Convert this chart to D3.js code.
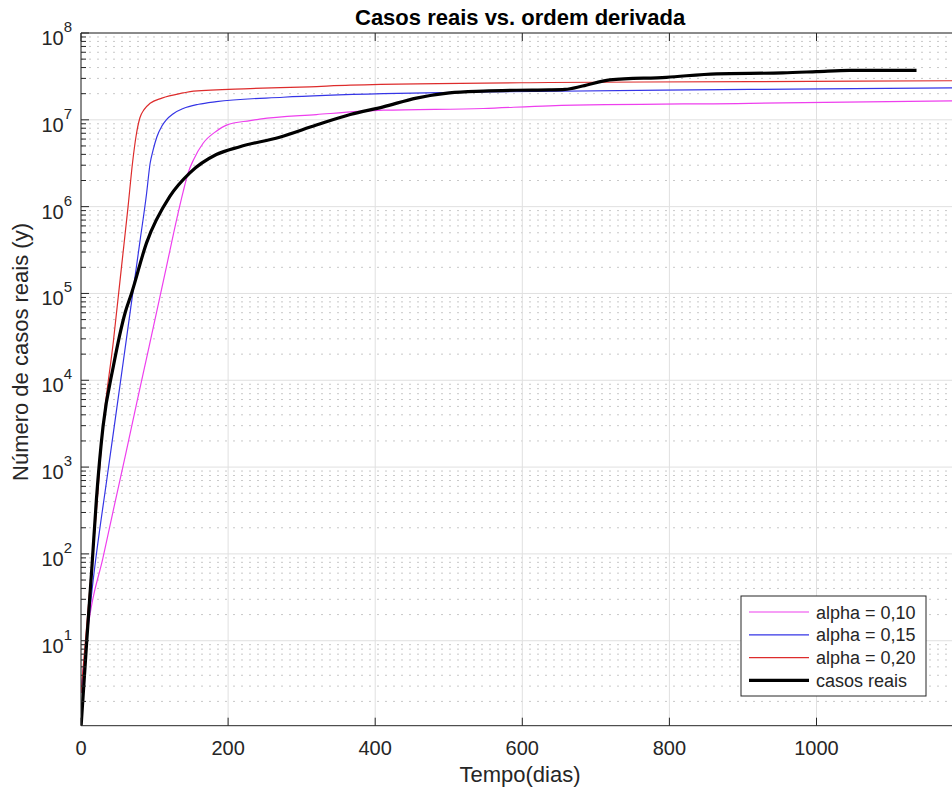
<!DOCTYPE html>
<html>
<head>
<meta charset="utf-8">
<script src="https://cdn.jsdelivr.net/npm/d3@7"></script>
<style>
  body { margin: 0; background: #fff; }
  svg text { font-family: "Liberation Sans", Arial, Helvetica, sans-serif; fill: #262626; }
</style>
</head>
<body>
<div id="chart"></div>
<script>
// days and values
const tAlpha10 = [0, 10, 30, 45, 60, 76, 89, 103, 116, 130, 139, 146, 153, 166, 184, 198, 230, 243, 320, 411, 547, 637, 909, 1194];
const yAlpha10 = [2.5, 15, 91, 350, 1320, 5600, 17800, 62000, 2.0e5, 7.1e5, 1.5e6, 2.5e6, 3.47e6, 5.37e6, 7.4e6, 8.7e6, 9.8e6, 1.02e7, 1.15e7, 1.29e7, 1.35e7, 1.45e7, 1.55e7, 1.66e7];

const tAlpha15 = [0, 19, 35, 51, 62, 71, 80, 89, 94, 98, 103, 110, 116, 125, 139, 160, 184, 275, 411, 547, 909, 1194];
const yAlpha15 = [2.5, 74, 710, 6600, 31000, 1.1e5, 3.9e5, 1.38e6, 3.16e6, 4.47e6, 6.3e6, 8.5e6, 1.0e7, 1.17e7, 1.35e7, 1.51e7, 1.62e7, 1.82e7, 2.0e7, 2.09e7, 2.24e7, 2.34e7];

const tAlpha20 = [0, 10, 20, 30, 44, 55, 64, 70, 75, 80, 86, 94, 110, 139, 153, 230, 311, 366, 637, 909, 1194];
const yAlpha20 = [2.5, 25, 250, 2950, 28000, 2.0e5, 1.0e6, 3.16e6, 6.6e6, 1.05e7, 1.32e7, 1.55e7, 1.78e7, 2.04e7, 2.14e7, 2.29e7, 2.4e7, 2.51e7, 2.69e7, 2.75e7, 2.82e7];

const tReal = [0, 8, 15, 21, 30, 44, 60, 69, 89, 121, 148, 184, 216, 270, 320, 366, 411, 456, 501, 547, 592, 637, 658, 682, 719, 796, 864, 954, 1000, 1045, 1136];
const yReal = [1, 10.5, 74, 430, 2950, 14500, 60000, 102000, 380000, 1.32e6, 2.45e6, 3.98e6, 4.9e6, 6.3e6, 8.7e6, 1.15e7, 1.41e7, 1.78e7, 2.04e7, 2.14e7, 2.19e7, 2.21e7, 2.24e7, 2.45e7, 2.88e7, 3.09e7, 3.39e7, 3.47e7, 3.59e7, 3.72e7, 3.72e7];

const xTicks = [0, 200, 400, 600, 800, 1000];
const yDecades = [1, 2, 3, 4, 5, 6, 7, 8];

const seriesNames = ["alpha = 0,10", "alpha = 0,15", "alpha = 0,20", "casos reais"];
const seriesColors = ["#ee3fee", "#3535e6", "#dd2c2c", "#000000"];
const seriesWidths = [1.2, 1.2, 1.2, 3.2];

const width = 952, height = 789;
const plotLeft = 81, plotTop = 33, plotBottom = 725.7;
const xMax = 1194;
const plotRight = plotLeft + xMax * 0.7355;

const svg = d3.select("#chart").append("svg")
    .attr("width", width)
    .attr("height", height);

const x = d3.scaleLinear().domain([0, xMax]).range([plotLeft, plotRight]);
const y = d3.scaleLog().domain([1.05, 1e8]).range([plotBottom, plotTop]);

// minor values in each decade
const minorVals = [];
for (let d = 0; d < 8; d++) {
    for (let k = 2; k <= 9; k++) {
        const v = k * Math.pow(10, d);
        if (v > 1.05 && v < 1e8) minorVals.push(v);
    }
}

const grid = svg.append("g");
grid.selectAll("line.minor")
    .data(minorVals)
    .enter().append("line")
    .attr("class", "minor")
    .attr("x1", plotLeft).attr("x2", plotRight)
    .attr("y1", d => y(d)).attr("y2", d => y(d))
    .attr("stroke", "#c8c8c8")
    .attr("stroke-width", 1)
    .attr("stroke-dasharray", "2,6");

grid.selectAll("line.vmajor")
    .data(xTicks)
    .enter().append("line")
    .attr("class", "vmajor")
    .attr("x1", d => x(d)).attr("x2", d => x(d))
    .attr("y1", plotTop).attr("y2", plotBottom)
    .attr("stroke", "#e0e0e0")
    .attr("stroke-width", 1);

grid.selectAll("line.hmajor")
    .data(yDecades.map(e => Math.pow(10, e)))
    .enter().append("line")
    .attr("class", "hmajor")
    .attr("x1", plotLeft).attr("x2", plotRight)
    .attr("y1", d => y(d)).attr("y2", d => y(d))
    .attr("stroke", "#e0e0e0")
    .attr("stroke-width", 1);

// curves
svg.append("clipPath").attr("id", "clip")
    .append("rect").attr("x", plotLeft).attr("y", plotTop)
    .attr("width", plotRight - plotLeft).attr("height", plotBottom - plotTop);

const plot = svg.append("g").attr("clip-path", "url(#clip)");

const series = [
    { t: tAlpha10, v: yAlpha10 },
    { t: tAlpha15, v: yAlpha15 },
    { t: tAlpha20, v: yAlpha20 },
    { t: tReal, v: yReal }
];

series.forEach((s, i) => {
    const pts = s.t.map((t, j) => [t, s.v[j]]);
    const line = d3.line()
        .x(d => x(d[0]))
        .y(d => y(d[1]))
        .curve(d3.curveMonotoneX);
    plot.append("path")
        .attr("d", line(pts))
        .attr("fill", "none")
        .attr("stroke", seriesColors[i])
        .attr("stroke-width", seriesWidths[i])
        .attr("stroke-linejoin", "round");
});

// axes box lines
const axisColor = "#262626";
svg.append("line").attr("x1", plotLeft).attr("x2", plotRight).attr("y1", plotTop).attr("y2", plotTop)
    .attr("stroke", axisColor).attr("stroke-width", 1);
svg.append("line").attr("x1", plotLeft).attr("x2", plotRight).attr("y1", plotBottom).attr("y2", plotBottom)
    .attr("stroke", axisColor).attr("stroke-width", 1);
svg.append("line").attr("x1", plotLeft).attr("x2", plotLeft).attr("y1", plotTop).attr("y2", plotBottom)
    .attr("stroke", axisColor).attr("stroke-width", 1);

// x ticks (inward, bottom and top)
const xt = svg.append("g");
xTicks.forEach(t => {
    xt.append("line").attr("x1", x(t)).attr("x2", x(t)).attr("y1", plotBottom).attr("y2", plotBottom - 8)
        .attr("stroke", axisColor);
    xt.append("line").attr("x1", x(t)).attr("x2", x(t)).attr("y1", plotTop).attr("y2", plotTop + 8)
        .attr("stroke", axisColor);
    xt.append("text")
        .attr("x", x(t)).attr("y", plotBottom + 29)
        .attr("text-anchor", "middle")
        .attr("font-size", 20)
        .text(t);
});

// y ticks
const yt = svg.append("g");
minorVals.forEach(v => {
    yt.append("line").attr("x1", plotLeft).attr("x2", plotLeft + 5).attr("y1", y(v)).attr("y2", y(v))
        .attr("stroke", axisColor);
});
yDecades.forEach(e => {
    const py = y(Math.pow(10, e));
    yt.append("line").attr("x1", plotLeft).attr("x2", plotLeft + 8).attr("y1", py).attr("y2", py)
        .attr("stroke", axisColor);
    const lab = yt.append("text")
        .attr("x", plotLeft - 9).attr("y", py + 12)
        .attr("text-anchor", "end")
        .attr("font-size", 20);
    lab.append("tspan").text("10");
    lab.append("tspan").attr("font-size", 15).attr("dy", -13).text(e);
});

// title and labels
svg.append("text")
    .attr("x", (plotLeft + plotRight) / 2).attr("y", 25)
    .attr("text-anchor", "middle")
    .attr("font-size", 22)
    .attr("font-weight", "bold")
    .style("fill", "#000")
    .text("Casos reais vs. ordem derivada");

svg.append("text")
    .attr("x", 520).attr("y", 782)
    .attr("text-anchor", "middle")
    .attr("font-size", 22)
    .text("Tempo(dias)");

svg.append("text")
    .attr("transform", "translate(28,352) rotate(-90)")
    .attr("text-anchor", "middle")
    .attr("font-size", 22)
    .text("Número de casos reais (y)");

// legend
const lg = svg.append("g").attr("transform", "translate(741,596)");
lg.append("rect")
    .attr("width", 185).attr("height", 100)
    .attr("fill", "#fff")
    .attr("stroke", axisColor)
    .attr("stroke-width", 1);
seriesNames.forEach((name, i) => {
    const ry = 16 + i * 22.8;
    lg.append("line")
        .attr("x1", 8).attr("x2", 68).attr("y1", ry).attr("y2", ry)
        .attr("stroke", seriesColors[i])
        .attr("stroke-width", seriesWidths[i]);
    lg.append("text")
        .attr("x", 75).attr("y", ry + 6.5)
        .attr("font-size", 18)
        .text(name);
});
</script>
</body>
</html>
